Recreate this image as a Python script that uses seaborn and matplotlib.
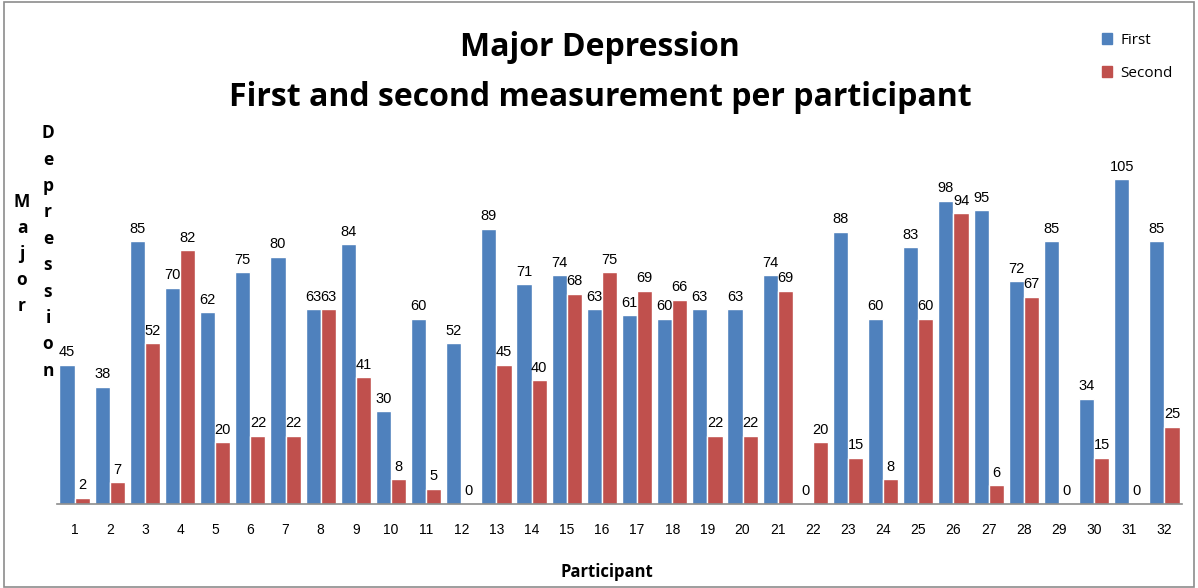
import matplotlib
matplotlib.use("Agg")
import matplotlib.pyplot as plt
import seaborn as sns
import pandas as pd
from matplotlib.patches import Rectangle

participants = list(range(1, 33))
first = [45, 38, 85, 70, 62, 75, 80, 63, 84, 30, 60, 52, 89, 71, 74, 63,
         61, 60, 63, 63, 74, 0, 88, 60, 83, 98, 95, 72, 85, 34, 105, 85]
second = [2, 7, 52, 82, 20, 22, 22, 63, 41, 8, 5, 0, 45, 40, 68, 75,
          69, 66, 22, 22, 69, 20, 15, 8, 60, 94, 6, 67, 0, 15, 0, 25]
series_names = ["First", "Second"]
colors = ["#4F81BD", "#C0504D"]

df = pd.DataFrame({
    "Participant": [str(p) for p in participants] * 2,
    "Score": first + second,
    "Measurement": [series_names[0]] * len(first) + [series_names[1]] * len(second),
})

sns.set_style("white")
plt.rcParams["font.family"] = ["Liberation Sans", "DejaVu Sans"]
plt.rcParams["text.color"] = "black"
plt.rcParams["xtick.color"] = "black"

fig = plt.figure(figsize=(11.98, 5.88), dpi=100)
W, H = 1198, 588
ax = fig.add_axes([57 / W, (H - 504) / H, (1182 - 57) / W, (504 - 133) / H])

sns.barplot(data=df, x="Participant", y="Score", hue="Measurement",
            palette=colors, width=0.86, saturation=1, ax=ax, legend=False)

for cont in ax.containers:
    ax.bar_label(cont, fontsize=10.5, padding=4, color="black")

ax.set_ylim(0, 120)
ax.set_xlim(-0.5, len(participants) - 0.5)
ax.set_yticks([])
ax.set_ylabel("")
ax.set_xlabel("")
for side in ["top", "right", "left"]:
    ax.spines[side].set_visible(False)
ax.spines["bottom"].set_color("#8c8c8c")
ax.spines["bottom"].set_linewidth(1.2)
ax.tick_params(axis="x", length=0, pad=14, labelsize=10, labelcolor="black")
for lbl in ax.get_xticklabels():
    lbl.set_fontfamily(["Liberation Sans Narrow", "Liberation Sans"])
    lbl.set_fontstretch("condensed")

# Titles
fig.text(600 / W, 1 - 47 / H, "Major Depression", ha="center", va="center",
         fontsize=23, fontweight="bold", family=["Open Sans", "DejaVu Sans"])
fig.text(600 / W, 1 - 97 / H, "First and second measurement per participant",
         ha="center", va="center", fontsize=23, fontweight="bold",
         family=["Open Sans", "DejaVu Sans"])

# Axis labels
fig.text(607 / W, 1 - 572 / H, "Participant", ha="center", va="center",
         fontsize=12, fontweight="bold", family=["Open Sans", "DejaVu Sans"])
fig.text(22 / W, 1 - 254 / H, "\n".join("Major"), ha="center", va="center",
         fontsize=12.5, fontweight="bold", linespacing=1.58,
         family=["Open Sans", "DejaVu Sans"])
fig.text(48 / W, 1 - 252 / H, "\n".join("Depression"), ha="center", va="center",
         fontsize=12.5, fontweight="bold", linespacing=1.6,
         family=["Open Sans", "DejaVu Sans"])

# Legend
handles = [Rectangle((0, 0), 1, 1, color=c) for c in colors]
fig.legend(handles, series_names, loc="upper left",
           bbox_to_anchor=(1088 / W, 1 - 19 / H), frameon=False,
           handlelength=0.7, handleheight=0.7,
           handletextpad=0.5, labelspacing=1.2,
           prop={"family": ["Open Sans", "DejaVu Sans"], "size": 11})

# Outer border
fig.patches.append(Rectangle((4 / W, 0.002), 1 - 8 / W, 0.995,
                             transform=fig.transFigure, fill=False,
                             edgecolor="#8c8c8c", linewidth=1.2))

fig.savefig("out.png", dpi=100)
